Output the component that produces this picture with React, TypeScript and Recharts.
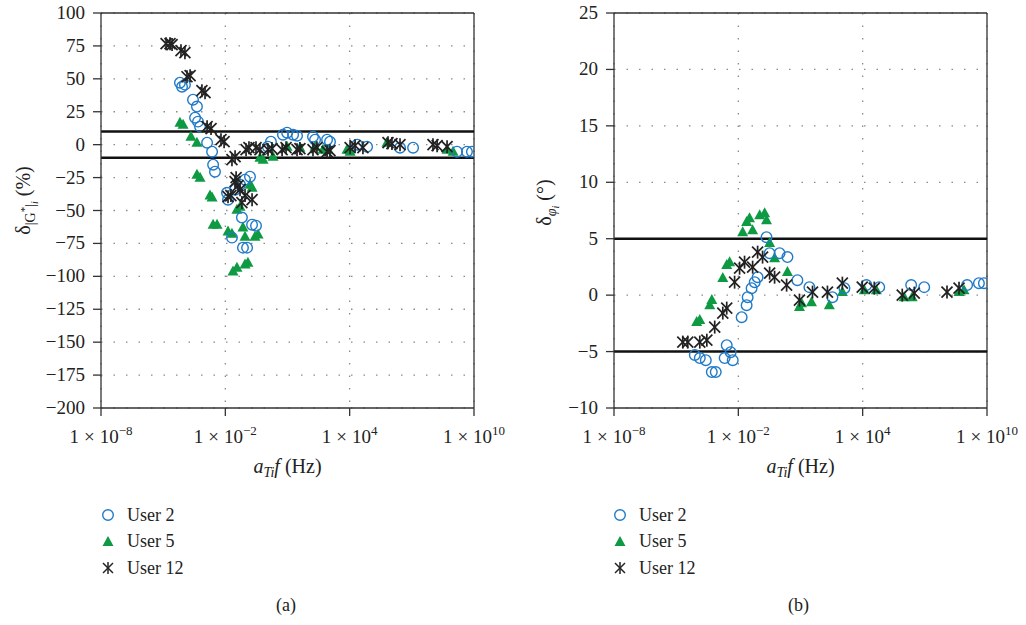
import { ScatterChart, Scatter, XAxis, YAxis, CartesianGrid, ReferenceLine } from 'recharts';

// x values are log10(aTi·f), y values are deviations
const X_TICKS = [-8, -2, 4, 10];
const MAG_TICKS = [100, 75, 50, 25, 0, -25, -50, -75, -100, -125, -150, -175, -200];
const PHASE_TICKS = [25, 20, 15, 10, 5, 0, -5, -10];
const MAG_LIMITS = [10, -10];
const PHASE_LIMITS = [5, -5];

// (a) modulus deviation, %
const u2MagLogF = [-4.19, -4.09, -3.95, -3.56, -3.37, -3.46, -3.32, -3.22, -2.88, -2.64, -2.59, -2.5, -1.05, -0.81, -1.29, -1.53, -1.92, -1.87, -1.2, -0.71, -0.52, -1.15, -0.95, -1.68, 0.78, 0.98, 1.27, 1.46, 2.23, 2.33, 2.91, 3.05, 4.36, 4.84, 6.43, 7.06, 9.18, 9.66, 9.9, 0.05, 0.2];
const u2MagDev = [47.1, 44, 45.6, 34.2, 28.9, 20.5, 17.5, 13.7, 1.5, -5.3, -15.2, -20.5, -26.6, -24.3, -30.4, -34.2, -36.5, -41.8, -55.4, -60.8, -61.5, -78.2, -78.2, -70.6, 7.6, 9.1, 7.6, 6.8, 6.1, 3.8, 3.8, 2.3, 0, -1.5, -2.3, -2.3, -5.3, -5.3, -5.3, -1.5, 2.3];

const u5MagLogF = [-4.19, -4.04, -3.66, -3.37, -3.37, -3.22, -2.74, -2.64, -2.59, -2.4, -1.87, -1.68, -1.15, -1.05, -0.57, -0.42, -1.63, -1.44, -1.05, -0.91, -1.44, -1.29, -0.81, -0.71, -0.33, -0.18, 0.3, 0.98, 1.6, 2.33, 2.71, 2.96, 3.87, 4.02, 5.8, 8.7, 8.99];
const u5MagDev = [16.7, 15.2, 6.1, 1.5, -22.8, -25.1, -38.7, -40.2, -60.8, -60.8, -66, -67.6, -63, -69.9, -69.9, -68.3, -96.4, -93.4, -91.1, -89.6, -49.4, -47.1, -30.4, -32.7, -9.9, -11.4, -9.1, -1.5, -2.3, -1.5, -3.8, -3.8, -3.8, -5.3, 1.5, -3.8, -5.3];

const u12MagLogF = [-4.86, -4.67, -4.57, -4.14, -3.95, -3.85, -3.7, -3.13, -2.98, -2.88, -2.69, -2.21, -2.06, -1.68, -1.53, -1.0, -0.86, -0.52, -0.33, 0.06, 0.25, 0.74, 0.93, 1.46, 1.6, 2.23, 2.42, 2.91, 3.05, 4.02, 4.26, 4.64, 5.85, 6.04, 6.43, 8.02, 8.22, 8.7, -1.87, -1.73, -1.53, -1.39, -1.29, -1.2, -1.05, -0.71, -1.48];
const u12MagDev = [76.7, 76.7, 76, 71.4, 69.9, 51.6, 52.4, 41, 39.5, 13.7, 12.2, 3.8, 2.3, -11.4, -9.1, -3.8, -2.3, -2.3, -3.8, -3.8, -3, -3.8, -2.3, -3.8, -3, -3.8, -2.3, -5.3, -4.6, -2.3, -0.8, -2.3, 1.5, 0.8, 0, 0, -0.8, -1.5, -39.5, -38.7, -28.1, -31.1, -34.2, -44, -38.7, -41.8, -25.1];

// (b) phase angle deviation, degrees
const u2PhaseLogF = [-4.1, -3.86, -3.57, -3.28, -3.09, -2.66, -2.56, -2.37, -2.27, -1.84, -1.6, -1.55, -1.36, -1.21, -1.07, -0.64, -0.49, -0.01, 0.37, 0.85, 1.43, 2.54, 3.12, 4.18, 4.8, 6.34, 6.97, 9.04, 9.61, 9.85];
const u2PhaseDev = [-5.31, -5.58, -5.76, -6.82, -6.82, -5.58, -4.43, -5.05, -5.76, -1.95, -0.89, -0.18, 0.62, 1.15, 1.59, 5.14, 3.72, 3.72, 3.37, 1.33, 0.71, -0.18, 0.62, 0.89, 0.71, 0.89, 0.71, 0.89, 1.06, 1.06];

const u5PhaseLogF = [-4.01, -3.86, -3.38, -3.28, -2.75, -2.56, -2.42, -1.79, -1.6, -1.46, -1.31, -0.97, -0.73, -0.64, -0.49, -0.25, 0.37, 0.95, 1.05, 1.53, 2.39, 3.02, 4.08, 4.66, 6.0, 6.39, 8.65, 8.89];
const u5PhaseDev = [-2.39, -2.21, -0.89, -0.44, 1.51, 2.66, 2.92, 5.58, 6.47, 6.82, 5.76, 7.09, 7.26, 6.64, 4.61, 3.28, 2.04, -1.06, -0.71, -0.62, -0.89, 0.27, 0.44, 0.44, -0.18, -0.18, 0.27, 0.44];

const u12PhaseLogF = [-4.68, -4.44, -3.86, -3.52, -3.14, -2.75, -2.56, -2.18, -1.94, -1.7, -1.31, -1.07, -0.83, -0.49, -0.25, 0.33, 0.95, 1.58, 2.3, 3.02, 3.98, 4.56, 5.91, 6.49, 8.07, 8.65];
const u12PhaseDev = [-4.16, -4.16, -4.16, -3.99, -2.83, -1.59, -1.15, 1.15, 2.39, 2.92, 2.48, 3.81, 3.37, 1.95, 1.59, 0.89, -0.44, 0.27, 0.27, 1.06, 0.71, 0.62, 0, 0.18, 0.27, 0.62];

const FONT = '"Liberation Serif", "DejaVu Serif", serif';
const BLUE = '#1f7ac8';
const GREEN = '#0e9a43';
const INK = '#222';
const txt = (size: number) => ({ fontFamily: FONT, fontSize: `${size}px` });

const zip = (xs: number[], ys: number[]) => xs.map((lf, i) => ({ lf, v: ys[i] }));

const OpenCircle = ({ cx, cy }: any) => (
  <circle cx={cx} cy={cy} r={5.3} fill="none" stroke={BLUE} strokeWidth={1.4} />
);

const Triangle = ({ cx, cy }: any) => (
  <polygon points={`${cx},${cy - 6} ${cx + 5.5},${cy + 4} ${cx - 5.5},${cy + 4}`} fill={GREEN} />
);

const Asterisk = ({ cx, cy }: any) => (
  <g stroke={INK} strokeWidth={1.7}>
    <line x1={cx} y1={cy - 6.5} x2={cx} y2={cy + 6.5} />
    <line x1={cx - 5.5} y1={cy - 5.5} x2={cx + 5.5} y2={cy + 5.5} />
    <line x1={cx - 5.5} y1={cy + 5.5} x2={cx + 5.5} y2={cy - 5.5} />
  </g>
);

function LogTick({ x, y, payload }: any) {
  const e = payload.value;
  return (
    <text x={x} y={y + 25} textAnchor="middle" fill={INK} style={txt(19)}>
      1<tspan dx={5}>×</tspan><tspan dx={5}>10</tspan>
      <tspan dy={-8} style={{ fontSize: '13px' }}>{e < 0 ? `−${-e}` : e}</tspan>
    </text>
  );
}

function NumTick({ x, y, payload }: any) {
  const v = payload.value;
  return (
    <text x={x - 6} y={y + 6} textAnchor="end" fill={INK} style={txt(19)}>
      {v < 0 ? `−${-v}` : v}
    </text>
  );
}

const small = (size: number, italic = false) => ({ fontSize: `${size}px`, fontStyle: italic ? 'italic' : 'normal' });

function FreqLabel({ viewBox }: any) {
  const cx = viewBox.x + viewBox.width / 2;
  return (
    <text x={cx} y={viewBox.y + 65} textAnchor="middle" fill={INK} style={txt(20)}>
      <tspan style={small(20, true)}>a</tspan>
      <tspan dy={4} style={small(14, true)}>Ti</tspan>
      <tspan dy={-4} style={small(20, true)}>f</tspan>
      <tspan> (Hz)</tspan>
    </text>
  );
}

function MagLabel({ viewBox }: any) {
  const x = viewBox.x + 30;
  const y = viewBox.y + viewBox.height / 2 - 10;
  return (
    <text x={x} y={y} transform={`rotate(-90 ${x} ${y})`} textAnchor="middle" fill={INK} style={txt(20)}>
      δ
      <tspan dy={5} style={small(14)}>|G</tspan>
      <tspan dy={-7} style={small(11)}>*</tspan>
      <tspan dy={7} style={small(14)}>|</tspan>
      <tspan dy={3} style={small(10, true)}>i</tspan>
      <tspan dy={-8}> (%)</tspan>
    </text>
  );
}

function PhaseLabel({ viewBox }: any) {
  const x = viewBox.x + 38;
  const y = viewBox.y + viewBox.height / 2 - 8;
  return (
    <text x={x} y={y} transform={`rotate(-90 ${x} ${y})`} textAnchor="middle" fill={INK} style={txt(20)}>
      δ
      <tspan dy={5} style={small(14, true)}>φ</tspan>
      <tspan dy={3} style={small(10, true)}>i</tspan>
      <tspan dy={-8}> (°)</tspan>
    </text>
  );
}

interface PanelProps {
  ticks: number[];
  limits: number[];
  yLabel: any;
  u2: { lf: number; v: number }[];
  u5: { lf: number; v: number }[];
  u12: { lf: number; v: number }[];
}

function Panel({ ticks, limits, yLabel, u2, u5, u12 }: PanelProps) {
  const top = ticks[0];
  const bottom = ticks[ticks.length - 1];
  return (
    <ScatterChart width={513} height={480} margin={{ top: 13, right: 39, left: 0, bottom: 0 }}>
      <CartesianGrid stroke="#8a8a8a" strokeDasharray="1.5 11" strokeWidth={1.3} />
      <XAxis
        type="number"
        dataKey="lf"
        domain={[-8, 10]}
        ticks={X_TICKS}
        interval={0}
        height={72}
        tick={<LogTick />}
        tickSize={8}
        stroke="#333"
        strokeWidth={1.3}
        label={<FreqLabel />}
        allowDataOverflow
      />
      <YAxis
        type="number"
        dataKey="v"
        domain={[bottom, top]}
        ticks={ticks}
        interval={0}
        width={101}
        tick={<NumTick />}
        tickSize={8}
        stroke="#333"
        strokeWidth={1.3}
        label={yLabel}
        allowDataOverflow
      />
      <ReferenceLine y={top} stroke="#333" strokeWidth={1.3} />
      <ReferenceLine x={10} stroke="#333" strokeWidth={1.3} />
      {limits.map((l) => (
        <ReferenceLine key={l} y={l} stroke="#111" strokeWidth={2.5} />
      ))}
      <Scatter name="User 5" data={u5} shape={<Triangle />} isAnimationActive={false} />
      <Scatter name="User 2" data={u2} shape={<OpenCircle />} isAnimationActive={false} />
      <Scatter name="User 12" data={u12} shape={<Asterisk />} isAnimationActive={false} />
    </ScatterChart>
  );
}

function KeyList({ left }: { left: number }) {
  const rows = [
    { label: 'User 2', icon: <circle cx={8} cy={8} r={5.3} fill="none" stroke={BLUE} strokeWidth={1.4} /> },
    { label: 'User 5', icon: <polygon points="8,2 13.5,12 2.5,12" fill={GREEN} /> },
    {
      label: 'User 12',
      icon: (
        <g stroke={INK} strokeWidth={1.5}>
          <line x1={8} y1={2} x2={8} y2={14} />
          <line x1={3} y1={3} x2={13} y2={13} />
          <line x1={3} y1={13} x2={13} y2={3} />
        </g>
      ),
    },
  ];
  return (
    <div style={{ position: 'absolute', left, top: 502, fontFamily: FONT, fontSize: 18, color: INK }}>
      {rows.map((r) => (
        <div key={r.label} style={{ display: 'flex', alignItems: 'center', height: 26.5 }}>
          <svg width={16} height={16} style={{ marginRight: 11 }}>{r.icon}</svg>
          <span>{r.label}</span>
        </div>
      ))}
    </div>
  );
}

export default function App() {
  return (
    <div style={{ position: 'absolute', left: 0, top: 0, width: 1026, height: 625, background: '#fff', overflow: 'hidden' }}>
      <div style={{ position: 'absolute', left: 0, top: 0 }}>
        <Panel
          ticks={MAG_TICKS}
          limits={MAG_LIMITS}
          yLabel={<MagLabel />}
          u2={zip(u2MagLogF, u2MagDev)}
          u5={zip(u5MagLogF, u5MagDev)}
          u12={zip(u12MagLogF, u12MagDev)}
        />
      </div>
      <div style={{ position: 'absolute', left: 513, top: 0 }}>
        <Panel
          ticks={PHASE_TICKS}
          limits={PHASE_LIMITS}
          yLabel={<PhaseLabel />}
          u2={zip(u2PhaseLogF, u2PhaseDev)}
          u5={zip(u5PhaseLogF, u5PhaseDev)}
          u12={zip(u12PhaseLogF, u12PhaseDev)}
        />
      </div>
      <KeyList left={100} />
      <KeyList left={612} />
      <div style={{ position: 'absolute', left: 276, top: 595, fontFamily: FONT, fontSize: 18, color: INK }}>(a)</div>
      <div style={{ position: 'absolute', left: 788, top: 595, fontFamily: FONT, fontSize: 18, color: INK }}>(b)</div>
    </div>
  );
}
